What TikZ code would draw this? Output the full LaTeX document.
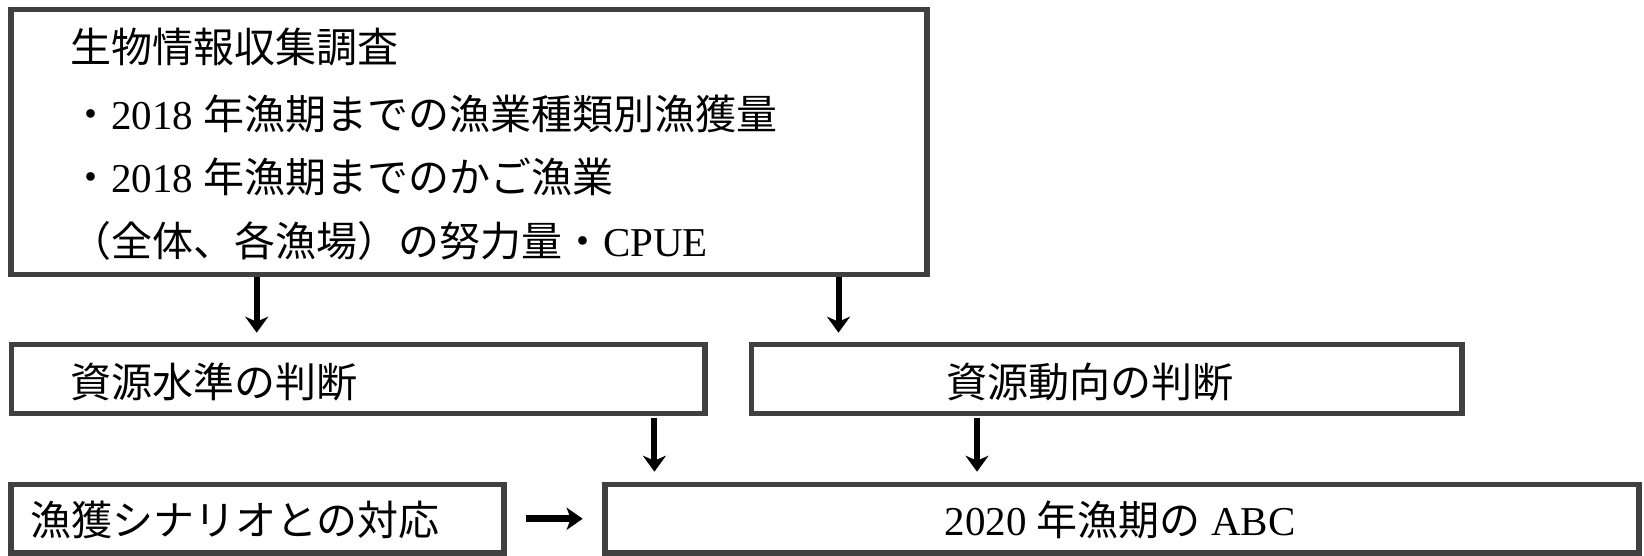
\documentclass[tikz,border=0pt]{standalone}
\usepackage{fontspec}
\setmainfont{Liberation Serif}
\newfontfamily\cjk{Noto Sans CJK JP}
\usetikzlibrary{arrows.meta}
\definecolor{bordergray}{HTML}{404040}
\begin{document}
\begin{tikzpicture}[x=1pt,y=-1pt,
  box/.style={draw=bordergray, line width=5.7pt, outer sep=0pt, inner sep=0pt, anchor=north west},
  txt/.style={inner sep=0pt, font=\fontsize{41}{49}\selectfont},
  ltxt/.style={txt, anchor=base west},
  ctxt/.style={txt, anchor=base},
  varr/.style={draw=black, line width=6pt, -{Stealth[length=16pt,width=23pt,inset=5pt]}},
  harr/.style={draw=black, line width=7pt, -{Stealth[length=16pt,width=22pt,inset=4pt]}}
]
\useasboundingbox (0,0) rectangle (1644,556);
\fill[white] (0,0) rectangle (1644,556);

% boxes
\node[box, minimum width=916pt, minimum height=265pt] (top) at (11,9.5) {};
\node[box, minimum width=693.5pt, minimum height=69pt] (lvl) at (11.5,344.5) {};
\node[box, minimum width=710.5pt, minimum height=69pt] (trd) at (751.5,344.5) {};
\node[box, minimum width=493pt, minimum height=68.5pt] (scn) at (11,484.5) {};
\node[box, minimum width=1034pt, minimum height=68.5pt] (abc) at (605,484.5) {};

% texts
\node[ltxt] (t1) at (70,62.5) {{\cjk 生物情報収集調査}};
\node[ltxt] (t2) at (70,130) {{\cjk ・}2018 {\cjk 年漁期までの漁業種類別漁獲量}};
\node[ltxt] (t3) at (70,192.5) {{\cjk ・}2018 {\cjk 年漁期までのかご漁業}};
\node[ltxt] (t4) at (70,256.7) {{\cjk （全体、各漁場）の努力量・}CPUE};
\node[ltxt] (tl) at (70,397.5) {{\cjk 資源水準の判断}};
\node[ctxt] (tt) at (1089.5,397.5) {{\cjk 資源動向の判断}};
\node[ltxt] (ts) at (30,535) {{\cjk 漁獲シナリオとの対応}};
\node[ctxt] (ta) at (1120,535) {2020 {\cjk 年漁期の} ABC};

% arrows
\coordinate (a1) at (256.7,0);
\coordinate (a2) at (838.5,0);
\coordinate (a3) at (654.4,0);
\coordinate (a4) at (977,0);
\draw[varr, shorten <=2.85pt, shorten >=11.8pt] (top.south -| a1) -- (lvl.north -| a1);
\draw[varr, shorten <=2.85pt, shorten >=11.8pt] (top.south -| a2) -- (trd.north -| a2);
\draw[varr, shorten <=4.5pt, shorten >=12.8pt] (lvl.south -| a3) -- (abc.north -| a3);
\draw[varr, shorten <=4.5pt, shorten >=12.8pt] (trd.south -| a4) -- (abc.north -| a4);
\draw[harr, shorten <=21.7pt, shorten >=22.3pt] (scn.east) -- (abc.west |- scn.east);
\end{tikzpicture}
\end{document}
